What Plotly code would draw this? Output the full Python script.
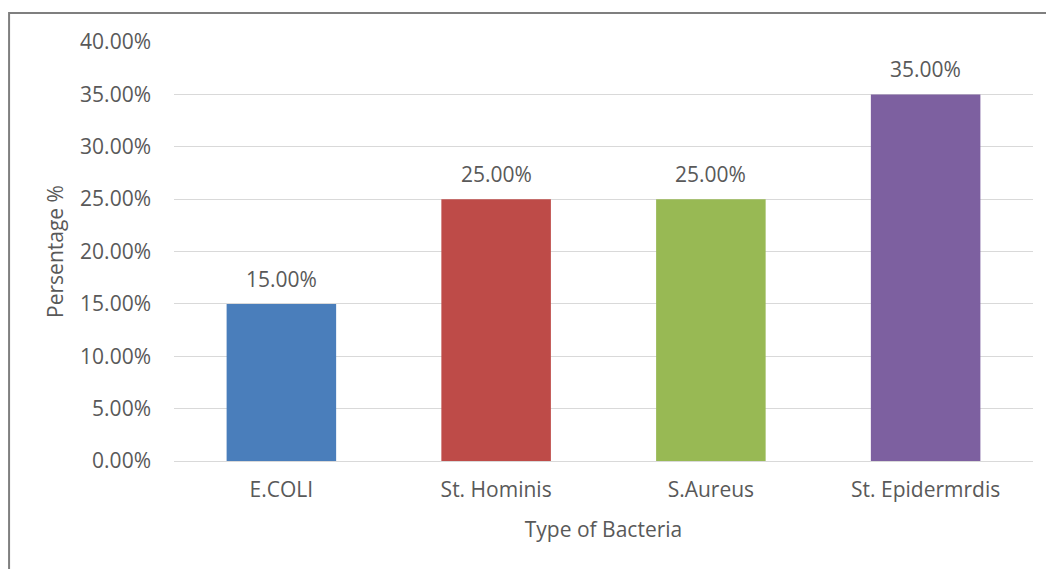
import plotly.graph_objects as go

categories = ["E.COLI", "St. Hominis", "S.Aureus", "St. Epidermrdis"]
values = [0.15, 0.25, 0.25, 0.35]
labels = ["15.00%", "25.00%", "25.00%", "35.00%"]
colors = ["#4a7ebb", "#be4b48", "#98b954", "#7d60a0"]
y_ticks = [0, 0.05, 0.10, 0.15, 0.20, 0.25, 0.30, 0.35, 0.40]

FONT = "Open Sans"
TXT = "#595959"
FS = 21

fig = go.Figure()
fig.add_trace(go.Bar(
    x=categories, y=values,
    marker=dict(color=colors, line=dict(width=0)),
    width=0.51,
    hoverinfo="x+y",
))

for c, v, l in zip(categories, values, labels):
    fig.add_annotation(x=c, y=v, text=l, showarrow=False, yanchor="bottom",
                       yshift=9, font=dict(family=FONT, size=FS, color=TXT))

fig.update_layout(
    width=1046, height=561,
    margin=dict(l=166, r=21, t=34, b=108),
    paper_bgcolor="white", plot_bgcolor="white",
    showlegend=False,
    font=dict(family=FONT, size=FS, color=TXT),
    xaxis=dict(
        title=dict(text="Type of Bacteria", font=dict(family=FONT, size=FS, color=TXT), standoff=20),
        showgrid=False, showline=False, ticks="", ticklabelstandoff=14,
        tickfont=dict(size=FS, color=TXT),
    ),
    yaxis=dict(
        title=dict(text="Persentage %", font=dict(family=FONT, size=FS, color=TXT), standoff=10),
        range=[0, 0.40], tickvals=y_ticks, tickformat=".2%",
        showgrid=True, gridcolor="#d9d9d9", gridwidth=1,
        zeroline=True, zerolinecolor="#d9d9d9", zerolinewidth=1,
        showline=False, ticks="", ticklabelstandoff=22,
        tickfont=dict(size=FS, color=TXT),
    ),
    shapes=[dict(type="rect", xref="paper", yref="paper",
                 x0=-0.192, x1=1.05, y0=-0.3, y1=1.069,
                 line=dict(color="#7f7f7f", width=2), fillcolor="rgba(0,0,0,0)", layer="below")],
)

fig.write_html("out.html")
